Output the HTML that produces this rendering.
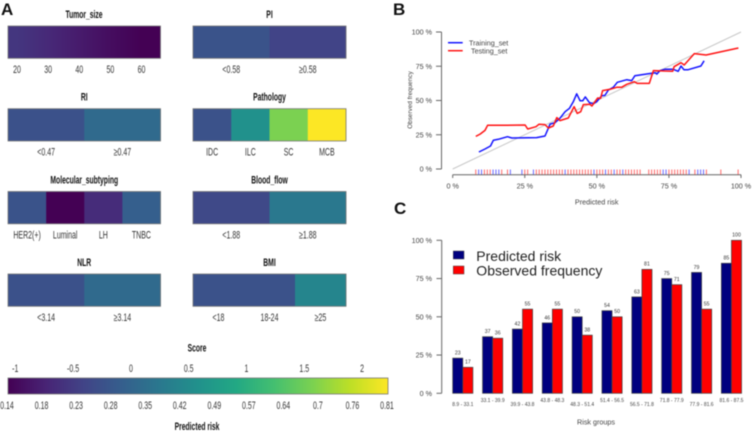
<!DOCTYPE html>
<html lang="en">
<head>
<meta charset="utf-8">
<title>Risk model panels</title>
<style>
html,body{margin:0;padding:0;background:#fff;width:753px;height:432px;overflow:hidden}
svg{display:block;filter:blur(.4px);font-family:"Liberation Sans",sans-serif}
</style>
</head>
<body>
<svg id="fig" xmlns="http://www.w3.org/2000/svg" width="753" height="432" viewBox="0 0 753 432">
  <rect width="753" height="432" fill="#fff"/>
  <text x="1" y="15" font-size="17" font-weight="bold" fill="#111">A</text>
  <text x="393" y="15" font-size="17" font-weight="bold" fill="#111">B</text>
  <text x="394" y="214" font-size="17" font-weight="bold" fill="#111">C</text>
  <g id="panelA"></g>
  <g id="panelB"></g>
  <g id="panelC"></g>
</svg>
<script>
/* ---------- Panel A data ---------- */
const stripTitles = ['PI','RI','Pathology','Molecular_subtyping','Blood_flow','NLR','BMI'];
const stripLevels = [
  ['<0.58','\u22650.58'],
  ['<0.47','\u22650.47'],
  ['IDC','ILC','SC','MCB'],
  ['HER2(+)','Luminal','LH','TNBC'],
  ['<1.88','\u22651.88'],
  ['<3.14','\u22653.14'],
  ['<18','18-24','\u226525']
];
const stripScores = [
  [-0.22,-0.40],
  [-0.25,0.07],
  [-0.24,0.58,1.57,2.22],
  [-0.22,-1.06,-0.65,-0.08],
  [-0.34,0.25],
  [-0.25,0.07],
  [-0.24,-0.24,0.42]
];
const tumorTicks = [20,30,40,50,60];
const tumorScores = [-0.55,-0.68,-0.82,-0.95,-1.06];
const scoreTicks = [-1,-0.5,0,0.5,1,1.5,2];
const riskTickLabels = ['0.14','0.18','0.23','0.28','0.35','0.42','0.49','0.57','0.64','0.7','0.76','0.81'];

/* ---------- Panel B data ---------- */
const trainX = [9.1,11.2,13.1,14.1,15.8,19,20.5,29.1,32,33.8,35.5,37.2,39,40.5,41.8,43,44.2,45.1,46,47.4,48.8,49.9,51.7,52.8,54,55.7,57.1,60.4,62.1,63.2,70.2,70.8,71.9,73.6,76.5,78.2,79.2,80.2,81.7,86.1,87.2];
const trainY = [12.4,14.6,16.8,21,21.7,23.6,22.6,22.9,24.1,32.8,33.8,37,41.8,44.3,49,54.9,49.8,49.8,52.6,48.5,47.7,49,53.5,53.7,57.7,59.6,63.3,65.2,64.5,68.1,70.3,69.3,71.8,72.8,72.8,71.3,75.2,72.5,72.5,75.2,79];
const testX = [8,9.5,11.2,12.1,18.2,25.1,26,28.9,29.9,32,33.2,34.9,36.1,37.2,40.1,42.1,43.2,44.4,45.3,47.6,48.3,50.3,51.3,52,54.6,56.9,58.6,60.4,63,64,68.2,69.6,76.3,76.8,79.2,80.3,83.8,87.9,99.1];
const testY = [23.8,25.5,28.2,31.9,31.9,32.1,29.2,30.9,32.6,32.4,29.9,31.4,37.5,35.3,37.2,45.5,40.6,41.8,47,47.2,46,51.8,51.6,57.2,58.2,59.6,59.6,61.8,63.7,62.5,62.5,71.8,71.3,74.7,77.6,75.9,84.2,83.2,88.3];
const trainRug = [9,10,14,15,16,20,24,28,39,49,53,56,59,73,74,82,85,86,87];
const testRug = [8,11,12,13,17,19,25,26,29,30,31,32,33,34,35,36,37,38,40,41,42,43,44,45,46,47,48,50,51,52,54,55,57,58,60,61,62,63,64,65,68,69,70,71,72,75,76,77,78,79,80,81,84,88,93,99];
const percentTicks = [0,25,50,75,100];

/* ---------- Panel C data ---------- */
const riskGroups = ['8.9 - 33.1','33.1 - 39.9','39.9 - 43.8','43.8 - 48.3','48.3 - 51.4','51.4 - 56.5','56.5 - 71.8','71.8 - 77.9','77.9 - 81.6','81.6 - 87.5'];
const predictedRisk = [23,37,42,46,50,54,63,75,79,85];
const observedFrequency = [17,36,55,55,38,50,81,71,55,100];

/* ---------- helpers ---------- */
const NS = 'http://www.w3.org/2000/svg';
function mk(tag, attrs, parent){
  const el = document.createElementNS(NS, tag);
  for (const k in attrs) el.setAttribute(k, attrs[k]);
  parent.appendChild(el);
  return el;
}
function txt(parent, x, cy, str, size, opts){
  const o = opts || {};
  const sx = o.sx || 1;
  const el = mk('text', {
    transform: 'translate(' + x + ',' + (cy + size * 0.36) + ') scale(' + sx + ',1)' + (o.rot ? ' rotate(' + o.rot + ')' : ''),
    'font-size': size,
    'text-anchor': o.anchor || 'middle',
    'font-weight': o.weight || 'normal',
    fill: o.fill || '#333'
  }, parent);
  el.textContent = str;
  return el;
}
const viridisStops = ['#440154','#482475','#414487','#355f8d','#2a788e','#21918c','#22a884','#44bf70','#7ad151','#bddf26','#fde725'];
function viridis(t){
  const v = Math.max(0, Math.min(1, t)) * (viridisStops.length - 1);
  const i = Math.min(Math.floor(v), viridisStops.length - 2);
  const f = v - i;
  const a = viridisStops[i], b = viridisStops[i + 1];
  const ch = p => Math.round(parseInt(a.substr(p, 2), 16) * (1 - f) + parseInt(b.substr(p, 2), 16) * f);
  return 'rgb(' + ch(1) + ',' + ch(3) + ',' + ch(5) + ')';
}
/* score axis of the colour bar */
const SCORE_MIN = -1.063, SCORE_MAX = 2.224;
const scoreColor = s => viridis((s - SCORE_MIN) / (SCORE_MAX - SCORE_MIN));
const xScore = s => 8 + (s - SCORE_MIN) / (SCORE_MAX - SCORE_MIN) * 380;

/* ---------- Panel A ---------- */
const A = document.getElementById('panelA');
const defs = mk('defs', {}, A);
const SX = 0.65;
const LABEL_SIZE = 10.8;
const TITLE_SIZE = 10.6;
const TITLE_SX = 0.64;

const xTumor = v => 8 + (v - 17.1) / 49 * 152.5;

function titleA(x, cy, s){
  const t = txt(A, x, cy, s, TITLE_SIZE, {weight: 'bold', sx: TITLE_SX, fill: '#111'});
  
  
}
/* tumor size strip */
const tg = mk('linearGradient', {id: 'tumorGrad', x1: 0, x2: 1, y1: 0, y2: 0}, defs);
tumorTicks.forEach((v, i) => {
  mk('stop', {offset: (xTumor(v) - 8) / 152.5, 'stop-color': scoreColor(tumorScores[i])}, tg);
});
titleA(84, 14.3, 'Tumor_size');
const tumorRect = mk('rect', {x: 8, y: 26, width: 152.5, height: 32.3, fill: 'url(#tumorGrad)', stroke: '#777', 'stroke-width': 0.8}, A);


tumorTicks.forEach(v => {
  const t = txt(A, xTumor(v), 69, String(v), LABEL_SIZE, {sx: SX});
  
  
});

const stripColX = [193, 8, 193, 8, 193, 8, 193];
const stripRowY = [26, 108.7, 108.7, 191.5, 191.5, 274, 274];
stripTitles.forEach((title, i) => {
  const x0 = stripColX[i], y0 = stripRowY[i], w = i % 2 === 0 ? 153 : 152.5, h = 32.3;
  titleA(x0 + w / 2, y0 - 11.8, title);
  const levels = stripLevels[i];
  const n = levels.length;
  levels.forEach((lab, j) => {
    const r = mk('rect', {x: x0 + j * w / n, y: y0, width: w / n + 0.3, height: h, fill: scoreColor(stripScores[i][j])}, A);
    
    
    const t = txt(A, x0 + (j + 0.5) * w / n, y0 + h + 10.8, lab, LABEL_SIZE, {sx: SX});
    
    
  });
  const b = mk('rect', {x: x0, y: y0, width: w, height: h, fill: 'none', stroke: '#777', 'stroke-width': 0.8}, A);
  
  
});

/* score colour bar */
const sg = mk('linearGradient', {id: 'scoreGrad', x1: 0, x2: 1, y1: 0, y2: 0}, defs);
viridisStops.forEach((c, i) => {
  mk('stop', {offset: i / (viridisStops.length - 1), 'stop-color': c}, sg);
});
const scoreTitle = txt(A, 197, 347.7, 'Score', TITLE_SIZE, {weight: 'bold', sx: TITLE_SX, fill: '#111'});


const scoreBar = mk('rect', {x: 8, y: 378, width: 380, height: 16, fill: 'url(#scoreGrad)', stroke: '#777', 'stroke-width': 0.8}, A);


scoreTicks.forEach(s => {
  const t = txt(A, xScore(s), 368, String(s), LABEL_SIZE, {sx: SX});
  
  
});
riskTickLabels.forEach((lab, i) => {
  const t = txt(A, 7 + i * (380 / (riskTickLabels.length - 1)), 405, lab, LABEL_SIZE, {sx: SX});
  
  
});
const riskTitle = txt(A, 197, 426, 'Predicted risk', TITLE_SIZE, {weight: 'bold', sx: TITLE_SX, fill: '#111'});



/* ---------- Panel B ---------- */
const B = document.getElementById('panelB');
const xB = p => 452.7 + p * 2.883;
const yB = p => 169 - p * 1.37;
const AX = '#666';

const diag = mk('line', {x1: xB(0), y1: yB(0), x2: xB(100), y2: yB(100), stroke: '#c8c8c8', 'stroke-width': 1}, B);



const yAxisB = mk('line', {x1: 441.5, y1: yB(0), x2: 441.5, y2: yB(100), stroke: AX, 'stroke-width': 1}, B);


const xAxisB = mk('line', {x1: xB(0), y1: 174.7, x2: xB(100), y2: 174.7, stroke: AX, 'stroke-width': 1}, B);



percentTicks.forEach(p => {
  const ty = mk('line', {x1: 436, y1: yB(p), x2: 441.5, y2: yB(p), stroke: AX, 'stroke-width': 1}, B);
  
  
  const ly = txt(B, 432, yB(p), p + ' %', 7.2, {anchor: 'end', fill: '#444'});
  
  
  const tx = mk('line', {x1: xB(p), y1: 174.7, x2: xB(p), y2: 178, stroke: AX, 'stroke-width': 1}, B);
  
  
  const lx = txt(B, xB(p), 186, p + ' %', 7.2, {fill: '#444'});
  
  
});

testRug.forEach(p => {
  const r = mk('line', {x1: xB(p), y1: 169.5, x2: xB(p), y2: 174.5, stroke: '#ff4444', 'stroke-width': 1, opacity: 0.8}, B);
  
  
});
trainRug.forEach(p => {
  const r = mk('line', {x1: xB(p), y1: 169.5, x2: xB(p), y2: 174.5, stroke: '#4444ff', 'stroke-width': 1, opacity: 0.8}, B);
  
  
});

function linePts(xs, ys){
  return xs.map((x, i) => xB(x).toFixed(1) + ',' + yB(ys[i]).toFixed(1)).join(' ');
}
const trainLine = mk('polyline', {points: linePts(trainX, trainY), fill: 'none', stroke: '#1414ff', 'stroke-width': 1.5, 'stroke-linejoin': 'round'}, B);


const testLine = mk('polyline', {points: linePts(testX, testY), fill: 'none', stroke: '#ff1414', 'stroke-width': 1.5, 'stroke-linejoin': 'round'}, B);



const legTrainLine = mk('line', {x1: 448, y1: 42.7, x2: 462.7, y2: 42.7, stroke: '#1414ff', 'stroke-width': 1.5}, B);


const legTestLine = mk('line', {x1: 448, y1: 50.7, x2: 462.7, y2: 50.7, stroke: '#ff1414', 'stroke-width': 1.5}, B);


const legTrain = txt(B, 469, 43, 'Training_set', 7.2, {anchor: 'start', fill: '#444'});


const legTest = txt(B, 471, 51, 'Testing_set', 7.2, {anchor: 'start', fill: '#444'});



const yTitleB = txt(B, 412, 97.7, 'Observed frequency', 6.4, {rot: -90, fill: '#444'});


const xTitleB = txt(B, 596.7, 202, 'Predicted risk', 7.2, {fill: '#444'});



/* ---------- Panel C ---------- */
const C = document.getElementById('panelC');
const yC = p => 393.3 - p * 1.53;
const BAR_W = 10.1;
const xC = i => 452.7 + i * 29.85;

const yAxisC = mk('line', {x1: 441.7, y1: yC(0), x2: 441.7, y2: yC(100), stroke: AX, 'stroke-width': 1}, C);


percentTicks.forEach(p => {
  const tk = mk('line', {x1: 436.5, y1: yC(p), x2: 441.7, y2: yC(p), stroke: AX, 'stroke-width': 1}, C);
  
  
  const lb = txt(C, 432, yC(p), p + ' %', 7.2, {anchor: 'end', fill: '#444'});
  
  
});

riskGroups.forEach((g, i) => {
  const bp = mk('rect', {x: xC(i), y: yC(predictedRisk[i]), width: BAR_W, height: yC(0) - yC(predictedRisk[i]), fill: '#00007f', stroke: '#444', 'stroke-width': 0.7}, C);
  
  
  const bo = mk('rect', {x: xC(i) + BAR_W, y: yC(observedFrequency[i]), width: BAR_W, height: yC(0) - yC(observedFrequency[i]), fill: '#ff0000', stroke: '#444', 'stroke-width': 0.7}, C);
  
  
  const vp = txt(C, xC(i) + BAR_W / 2, yC(predictedRisk[i]) - 5.5, String(predictedRisk[i]), 5.2, {fill: '#333'});
  
  
  const vo = txt(C, xC(i) + BAR_W * 1.5, yC(observedFrequency[i]) - 5.5, String(observedFrequency[i]), 5.2, {fill: '#333'});
  
  
  const lg = txt(C, xC(i) + BAR_W, i % 2 === 0 ? 404 : 400, g, 5, {fill: '#444'});
  
  
});

const swP = mk('rect', {x: 453.3, y: 251, width: 10.7, height: 8, fill: '#00007f', stroke: '#444', 'stroke-width': 0.5}, C);


const swO = mk('rect', {x: 453.3, y: 266, width: 10.7, height: 8, fill: '#ff0000', stroke: '#444', 'stroke-width': 0.5}, C);


const lgP = txt(C, 476.3, 256, 'Predicted risk', 14, {anchor: 'start', fill: '#222'});


const lgO = txt(C, 476.3, 270.7, 'Observed frequency', 14, {anchor: 'start', fill: '#222'});


const xTitleC = txt(C, 596, 422, 'Risk groups', 7.2, {fill: '#444'});


</script>
</body>
</html>
